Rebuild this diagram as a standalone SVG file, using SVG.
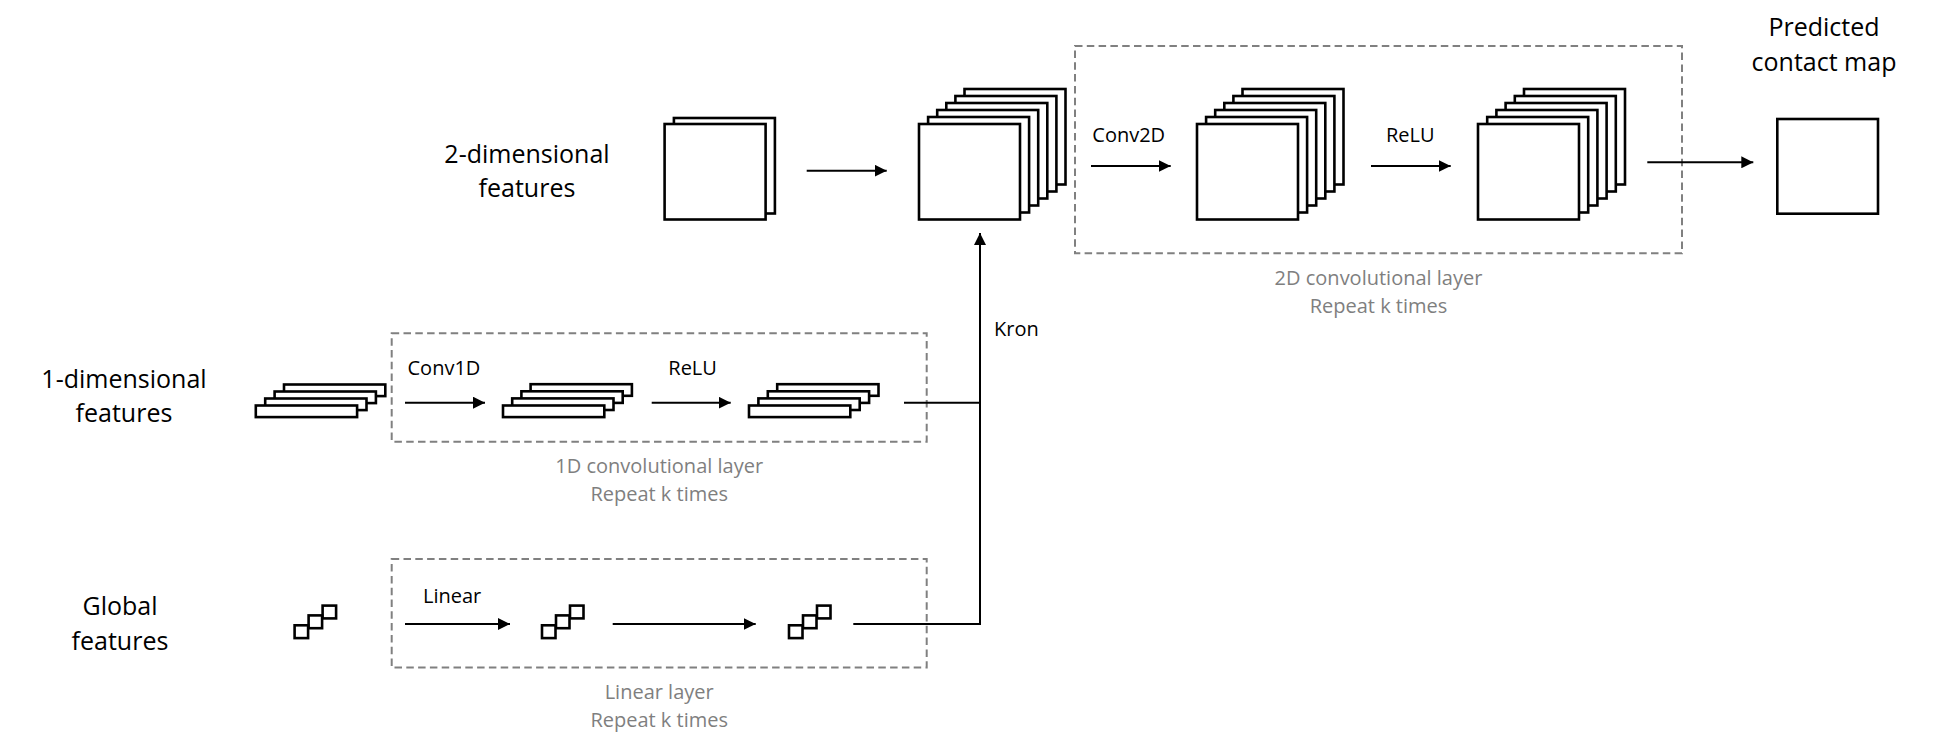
<svg xmlns="http://www.w3.org/2000/svg" width="1949" height="747" viewBox="0 0 1949 747">
<style>
  .t{font-family:"Open Sans","Noto Sans","Liberation Sans",sans-serif;fill:#000}
  .lbl{font-size:25px;text-anchor:middle}
  .op{font-size:20px}
  .cap{font-size:20px;fill:#7f7f7f;text-anchor:middle}
  .sh{fill:#fff;stroke:#000;stroke-width:2.6}
  .dash{fill:none;stroke:#808080;stroke-width:2;stroke-dasharray:7.5 4.3}
  .ln{fill:none;stroke:#000;stroke-width:2}
</style>
<defs>
  <marker id="ah" markerWidth="12" markerHeight="12" refX="12" refY="6" orient="auto" markerUnits="userSpaceOnUse">
    <path d="M0,0 L12,6 L0,12 Z" fill="#000"/>
  </marker>
  <rect id="big" width="101" height="95.5" class="sh"/>
  <rect id="bar" width="101.3" height="11.6" class="sh"/>
  <rect id="sq" width="13.5" height="12.8" class="sh"/>
</defs>
<rect width="1949" height="747" fill="#fff"/>

<g id="labels">
  <text class="t lbl" x="527" y="163">2-dimensional</text>
  <text class="t lbl" x="527" y="197">features</text>
  <text class="t lbl" x="124" y="388">1-dimensional</text>
  <text class="t lbl" x="124" y="422">features</text>
  <text class="t lbl" x="120" y="615">Global</text>
  <text class="t lbl" x="120" y="650">features</text>
  <text class="t lbl" x="1824" y="36">Predicted</text>
  <text class="t lbl" x="1824" y="71">contact map</text>
</g>

<g id="group-2d">
  <rect class="dash" x="1075" y="46" width="607" height="207.3"/>
  <text class="t cap" x="1378.5" y="284.5">2D convolutional layer</text>
  <text class="t cap" x="1378.5" y="312.5">Repeat k times</text>
</g>
<g id="group-1d">
  <rect class="dash" x="391.7" y="333.3" width="535" height="108.4"/>
  <text class="t cap" x="659.2" y="473">1D convolutional layer</text>
  <text class="t cap" x="659.2" y="501">Repeat k times</text>
</g>
<g id="group-linear">
  <rect class="dash" x="391.7" y="559" width="535" height="108.5"/>
  <text class="t cap" x="659.2" y="698.5">Linear layer</text>
  <text class="t cap" x="659.2" y="726.5">Repeat k times</text>
</g>

<g id="connectors">
  <line class="ln" x1="806.7" y1="170.7" x2="886.7" y2="170.7" marker-end="url(#ah)"/>
  <line class="ln" x1="1091" y1="166" x2="1170.7" y2="166" marker-end="url(#ah)"/>
  <line class="ln" x1="1371" y1="166" x2="1450.7" y2="166" marker-end="url(#ah)"/>
  <line class="ln" x1="1647.3" y1="162.3" x2="1753.3" y2="162.3" marker-end="url(#ah)"/>
  <line class="ln" x1="405" y1="402.7" x2="485" y2="402.7" marker-end="url(#ah)"/>
  <line class="ln" x1="651.7" y1="402.7" x2="730.7" y2="402.7" marker-end="url(#ah)"/>
  <line class="ln" x1="405" y1="624" x2="510" y2="624" marker-end="url(#ah)"/>
  <line class="ln" x1="612.7" y1="624" x2="755.7" y2="624" marker-end="url(#ah)"/>
  <line class="ln" x1="904" y1="402.7" x2="980" y2="402.7"/>
  <polyline class="ln" points="853.3,624 980,624 980,233" marker-end="url(#ah)"/>
  <text class="t op" x="994" y="336">Kron</text>
  <text class="t op" x="1092.3" y="141.7">Conv2D</text>
  <text class="t op" x="1386" y="141.7">ReLU</text>
  <text class="t op" x="407.5" y="375">Conv1D</text>
  <text class="t op" x="668.3" y="375">ReLU</text>
  <text class="t op" x="423" y="603">Linear</text>
</g>

<g id="node-2d-input">
  <use href="#big" x="673.9" y="118"/>
  <use href="#big" x="664.6" y="124"/>
</g>
<g id="node-2d-concat">
  <use href="#big" x="964.5" y="89"/>
  <use href="#big" x="955.4" y="96"/>
  <use href="#big" x="946.3" y="103"/>
  <use href="#big" x="937.2" y="110"/>
  <use href="#big" x="928.1" y="117"/>
  <use href="#big" x="919" y="124"/>
</g>
<g id="node-2d-conv">
  <use href="#big" x="1242.5" y="89"/>
  <use href="#big" x="1233.4" y="96"/>
  <use href="#big" x="1224.3" y="103"/>
  <use href="#big" x="1215.2" y="110"/>
  <use href="#big" x="1206.1" y="117"/>
  <use href="#big" x="1197" y="124"/>
</g>
<g id="node-2d-relu">
  <use href="#big" x="1524" y="89"/>
  <use href="#big" x="1514.8" y="96"/>
  <use href="#big" x="1505.6" y="103"/>
  <use href="#big" x="1496.4" y="110"/>
  <use href="#big" x="1487.2" y="117"/>
  <use href="#big" x="1478" y="124"/>
</g>
<g id="node-output">
  <rect class="sh" x="1777.3" y="119" width="100.7" height="94.7"/>
</g>

<g id="node-1d-input">
  <use href="#bar" x="284" y="384.5"/>
  <use href="#bar" x="274.6" y="391.5"/>
  <use href="#bar" x="265.2" y="398.5"/>
  <use href="#bar" x="255.8" y="405.5"/>
</g>
<g id="node-1d-conv">
  <use href="#bar" x="530.6" y="384.2"/>
  <use href="#bar" x="521.4" y="391.3"/>
  <use href="#bar" x="512.2" y="398.4"/>
  <use href="#bar" x="503" y="405.5"/>
</g>
<g id="node-1d-relu">
  <use href="#bar" x="777.2" y="384.2"/>
  <use href="#bar" x="767.8" y="391.3"/>
  <use href="#bar" x="758.4" y="398.4"/>
  <use href="#bar" x="749" y="405.5"/>
</g>

<g id="node-global-input">
  <use href="#sq" x="322.6" y="605.6"/>
  <use href="#sq" x="308.6" y="615.4"/>
  <use href="#sq" x="294.6" y="625.3"/>
</g>
<g id="node-global-linear">
  <use href="#sq" x="570" y="605.6"/>
  <use href="#sq" x="556" y="615.4"/>
  <use href="#sq" x="542" y="625.3"/>
</g>
<g id="node-global-out">
  <use href="#sq" x="817" y="605.6"/>
  <use href="#sq" x="803" y="615.4"/>
  <use href="#sq" x="789" y="625.3"/>
</g>
</svg>
